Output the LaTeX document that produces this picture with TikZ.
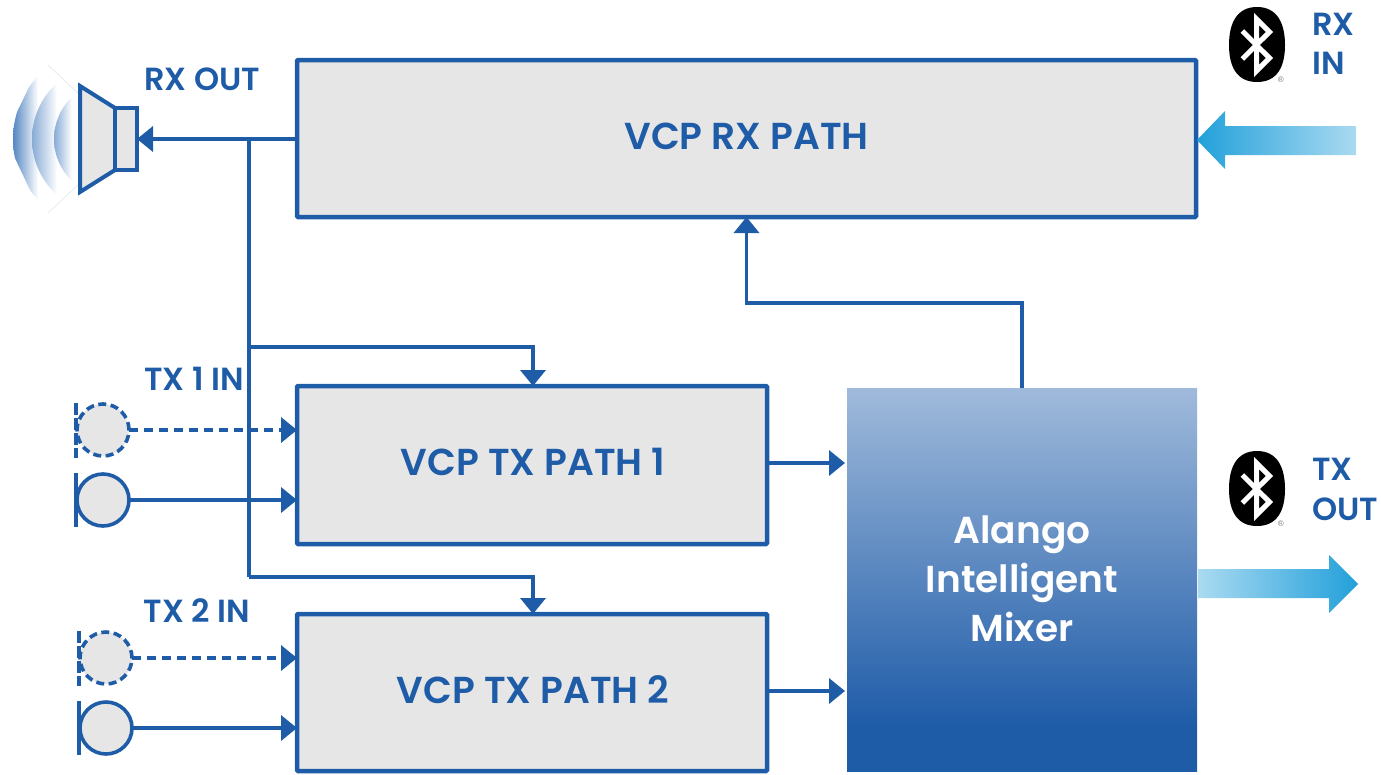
\documentclass[tikz,border=0pt]{standalone}
\usepackage{fontspec}
\setmainfont{Poppins}[BoldFont={Poppins SemiBold}]
\usetikzlibrary{arrows.meta,calc}
\definecolor{vblue}{RGB}{31,92,168}
\definecolor{vgray}{RGB}{230,230,230}
\definecolor{arrowA}{RGB}{34,160,218}
\definecolor{arrowB}{RGB}{170,218,241}
\definecolor{mixtop}{RGB}{160,186,219}
\definecolor{wave}{RGB}{85,135,195}
\pgfdeclareverticalshading{mixfade}{100bp}{color(0bp)=(vblue); color(25bp)=(vblue); color(31bp)=(vblue); color(75bp)=(mixtop); color(100bp)=(mixtop)}
\tikzset{
  pathbox/.style={draw=vblue,line width=4.5pt,fill=vgray,rounded corners=1pt,outer sep=0pt,inner sep=0pt},
  boxtext/.style={text=vblue,inner sep=0pt,font=\fontsize{37.5}{37.5}\selectfont\bfseries},
  mixtext/.style={text=white,inner sep=0pt,anchor=base,font=\fontsize{37.5}{37.5}\selectfont\bfseries},
  lbl/.style={text=vblue,inner sep=0pt,font=\fontsize{32}{32}\selectfont\bfseries},
  conn/.style={draw=vblue,line width=3.6pt},
  arr/.style={conn,-{Triangle[length=16pt,width=25pt]}},
  dashconn/.style={arr,dash pattern=on 9pt off 6pt},
  micc/.style={circle,draw=vblue,line width=3.6pt,fill=vgray,minimum size=52pt,inner sep=0pt,outer sep=0pt},
  micd/.style={micc,dash pattern=on 8pt off 4.5pt},
  micbar/.style={draw=vblue,line width=4pt},
}
\newcommand{\btlogo}[2]{%
  \begin{scope}[shift={(#1,#2)}]
    \fill[black] (0,-38) .. controls (20,-38) and (28,-22) .. (28,0)
       .. controls (28,22) and (20,37) .. (0,37)
       .. controls (-20,37) and (-28,22) .. (-28,0)
       .. controls (-28,-22) and (-20,-38) .. (0,-38) -- cycle;
    \draw[white,line width=5pt,miter limit=10] (-14.7,-14) -- (12.5,13) -- (-0.5,26) -- (-0.5,-26) -- (12.5,-13) -- (-14.7,14);
    \node[inner sep=0pt,text=black!60,font=\fontsize{8}{8}\selectfont\sffamily] at (24,35) {®};
  \end{scope}}
\begin{document}
\begin{tikzpicture}[x=1pt,y=-1pt]
\useasboundingbox (0,0) rectangle (1381,774);
% sound waves
\begin{scope}
  \clip (48,65) -- (80,95) -- (80,183) -- (48,213) -- (30,190) -- (5,137) -- (30,85) -- cycle;
  \begin{scope}
    \clip (104.6,139) circle (91.6);
    \shade[left color=wave,right color=white] (13,50) rectangle (38,230);
  \end{scope}
  \begin{scope}
    \clip (107,139) circle (75);
    \shade[left color=wave!70,right color=white] (32,50) rectangle (57,230);
  \end{scope}
  \begin{scope}
    \clip (112,139) circle (58);
    \shade[left color=wave!70,right color=white] (54,50) rectangle (72,230);
  \end{scope}
\end{scope}
\draw[black!10,line width=0.6pt] (80,95) -- (48,65) (80,183) -- (48,213);
% speaker
\draw[draw=vblue,fill=vgray,line width=4pt,miter limit=10] (80,86) -- (115,108) -- (115,170) -- (80,192) -- cycle;
\node[draw=vblue,fill=vgray,line width=4pt,minimum width=22pt,minimum height=62pt,inner sep=0pt,outer sep=0pt] (spk) at (126,139) {};
% boxes
\node[pathbox,minimum width=899pt,minimum height=157pt] (rx) at (746.5,138.5) {};
\node[pathbox,minimum width=470pt,minimum height=158pt] (tx1) at (532,465) {};
\node[pathbox,minimum width=470pt,minimum height=157pt] (tx2) at (532,692.5) {};
\node[boxtext] (rxt) at (746.5,136) {VCP RX PATH};
\node[boxtext] (tx1t) at (533,462) {VCP TX PATH 1};
\node[boxtext] (tx2t) at (533,690) {VCP TX PATH 2};
\node[shading=mixfade,minimum width=350pt,minimum height=383pt,inner sep=0pt,outer sep=0pt] (mix) at (1022,579.5) {};
\node[mixtext] (m1) at (1022,543) {Alango};
\node[mixtext] (m2) at (1022,592) {Intelligent};
\node[mixtext] (m3) at (1022,641) {Mixer};
% mics
\node[micd] (a1) at (103,430) {};
\node[micc] (a2) at (103,500) {};
\node[micd] (b1) at (106,658) {};
\node[micc] (b2) at (106,728) {};
\draw[micbar,dash pattern=on 12pt off 3pt] (76,403) -- (76,458);
\draw[micbar] (76,473) -- (76,527);
\draw[micbar,dash pattern=on 12pt off 3pt] (79,631) -- (79,686);
\draw[micbar] (79,701) -- (79,755);
% connectors
\coordinate (j1) at (249,139);
\coordinate (j2) at (249,347);
\coordinate (j3) at (249,577);
\draw[arr] (rx.west |- j1) -- (spk.east |- j1);
\draw[conn] (j1) -- (j3);
\draw[arr] (j2) -| ($(tx1.north)+(1,0)$);
\draw[arr] (j3) -| ($(tx2.north)+(1,0)$);
\draw[dashconn] (a1.east) -- (tx1.west |- a1.east);
\draw[arr] (a2.east) -- (tx1.west |- a2.east);
\draw[dashconn] (b1.east) -- (tx2.west |- b1.east);
\draw[arr] (b2.east) -- (tx2.west |- b2.east);
\draw[arr] ($(tx1.east)+(0,-2)$) -- ($(mix.west |- 0,463)+(-2,0)$);
\draw[arr] ($(tx2.east)+(0,-1.5)$) -- ($(mix.west |- 0,691)+(-2,0)$);
\draw[arr] (mix.north) -- (1022,303) -| (rx.south);
% labels
\node[lbl] (l1) at (202,79) {RX OUT};
\node[lbl] (l2) at (194,379) {TX 1 IN};
\node[lbl] (l3) at (197,611) {TX 2 IN};
\node[lbl,anchor=west] (l4) at (1312,24) {RX};
\node[lbl,anchor=west] (l5) at (1312,63) {IN};
\node[lbl,anchor=west] (l6) at (1312,469) {TX};
\node[lbl,anchor=west] (l7) at (1312,509) {OUT};
% bluetooth
\btlogo{1257}{45}
\btlogo{1257}{489}
% big arrows
\shade[left color=arrowA,right color=arrowB] (1197,140) -- (1225,111) -- (1225,126) -- (1356,126) -- (1356,155) -- (1225,155) -- (1225,169) -- cycle;
\shade[left color=arrowB,right color=arrowA] (1198,569) -- (1329,569) -- (1329,555) -- (1358,584) -- (1329,613) -- (1329,598) -- (1198,598) -- cycle;
\end{tikzpicture}
\end{document}
